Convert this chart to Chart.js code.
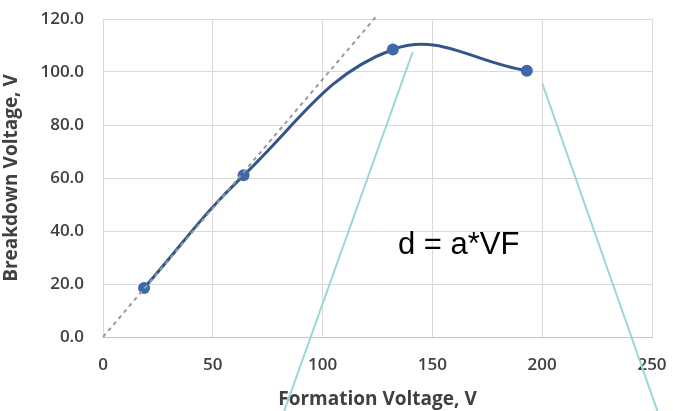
<!DOCTYPE html>
<html>
<head>
<meta charset="utf-8">
<script src="https://cdn.jsdelivr.net/npm/chart.js@4.4.1/dist/chart.umd.min.js"></script>
<style>
  html, body { margin: 0; padding: 0; background: #fff; }
  #wrap { width: 673px; height: 411px; position: relative; }
</style>
</head>
<body>
<div id="wrap"><canvas id="chart"></canvas></div>
<script>
// measured points: formation voltage vs breakdown voltage
const formationV = [18.7, 64, 132, 193];
const breakdownV = [18.5, 61, 108.5, 100.5];

// ideal proportional line d = a*VF
const idealX = [0, 125];
const idealY = [0, 121.5];

// callout lines running off the bottom of the chart
const callout1X = [141, 82.5];
const callout1Y = [107.5, -28];
const callout2X = [200, 252.5];
const callout2Y = [95.8, -28];

const xTicks = [0, 50, 100, 150, 200, 250];
const yTicks = [0, 20, 40, 60, 80, 100, 120];

const formulaText = 'd = a*VF';
const formulaAt = { x: 134.3, y: 31.5 };

const toPoints = (xs, ys) => xs.map((x, i) => ({ x: x, y: ys[i] }));

const tickFont = { family: 'Open Sans', size: 17, weight: '600' };
const titleFont = { family: 'Open Sans', size: 19, weight: 'bold' };

const formulaPlugin = {
  id: 'formula',
  afterDatasetsDraw(chart) {
    const { ctx, scales } = chart;
    ctx.save();
    ctx.font = '31px "Liberation Sans", Arial, sans-serif';
    ctx.fillStyle = '#000';
    ctx.textBaseline = 'alphabetic';
    ctx.textAlign = 'left';
    ctx.fillText(formulaText, scales.x.getPixelForValue(formulaAt.x), scales.y.getPixelForValue(formulaAt.y));
    ctx.restore();
  }
};

new Chart(document.getElementById('chart'), {
  type: 'scatter',
  data: {
    datasets: [
      {
        data: toPoints(idealX, idealY),
        showLine: true,
        borderColor: '#9a9a9a',
        borderWidth: 2,
        borderDash: [4, 4],
        pointRadius: 0,
        clip: false
      },
      {
        data: toPoints(formationV, breakdownV),
        showLine: true,
        borderColor: '#34558a',
        backgroundColor: '#3e68a8',
        borderWidth: 3,
        tension: 0.4,
        pointRadius: 6,
        pointBorderWidth: 0,
        pointBackgroundColor: '#3e68a8'
      },
      {
        data: toPoints(callout1X, callout1Y),
        showLine: true,
        borderColor: '#9fd6da',
        borderWidth: 2,
        pointRadius: 0,
        clip: false
      },
      {
        data: toPoints(callout2X, callout2Y),
        showLine: true,
        borderColor: '#9fd6da',
        borderWidth: 2,
        pointRadius: 0,
        clip: false
      }
    ]
  },
  options: {
    responsive: true,
    maintainAspectRatio: false,
    animation: false,
    layout: { padding: { top: 19, right: 21, left: 0, bottom: 0 } },
    plugins: { legend: { display: false }, tooltip: { enabled: false } },
    scales: {
      x: {
        type: 'linear',
        min: 0,
        max: 250,
        afterBuildTicks(scale) { scale.ticks = xTicks.map(v => ({ value: v })); },
        afterFit(scale) { scale.height = 74; scale.paddingLeft = 0; scale.paddingRight = 0; },
        grid: { color: '#d9d9d9', lineWidth: 1, drawTicks: false },
        border: { color: '#c4c4c4', width: 1 },
        ticks: { color: '#404040', font: tickFont, padding: 18, maxRotation: 0 },
        title: { display: true, text: 'Formation Voltage, V', color: '#404040', font: titleFont, padding: { top: 0, bottom: 0 } }
      },
      y: {
        type: 'linear',
        min: 0,
        max: 120,
        afterBuildTicks(scale) { scale.ticks = yTicks.map(v => ({ value: v })); },
        afterFit(scale) { scale.width = 103; scale.paddingTop = 0; scale.paddingBottom = 0; },
        grid: { color: '#d9d9d9', lineWidth: 1, drawTicks: false },
        border: { display: false },
        ticks: { color: '#404040', font: tickFont, padding: 19, callback: v => v.toFixed(1) },
        title: { display: true, text: 'Breakdown Voltage, V', color: '#404040', font: titleFont, padding: { top: 0, bottom: 2 } }
      }
    }
  },
  plugins: [formulaPlugin]
});
</script>
</body>
</html>
